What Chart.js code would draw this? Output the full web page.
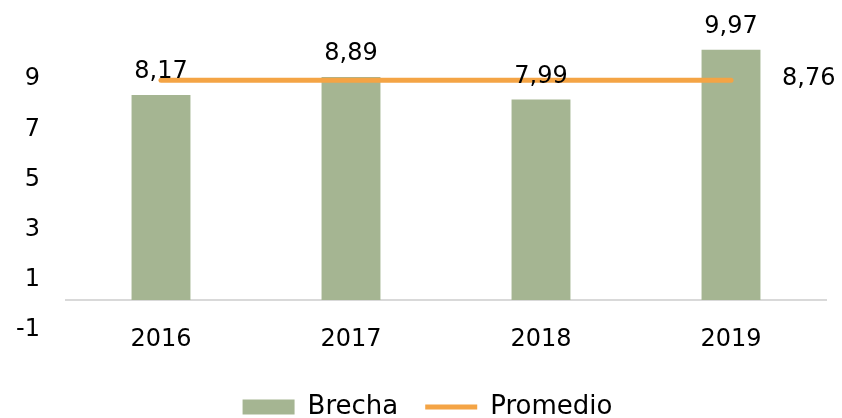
<!DOCTYPE html>
<html lang="es">
<head>
<meta charset="utf-8">
<title>Brecha</title>
<script src="https://cdn.jsdelivr.net/npm/chart.js@4/dist/chart.umd.min.js"></script>
<style>
    html, body { margin: 0; padding: 0; background: #fff; }
    #wrap { width: 842px; height: 418px; }
</style>
</head>
<body>
<div id="wrap"><canvas id="brechaChart" width="842" height="418"></canvas></div>
<script>
const years = ['2016', '2017', '2018', '2019'];
const brecha = [8.17, 8.89, 7.99, 9.97];
const promedio = [8.76, 8.76, 8.76, 8.76];
const yTicks = [-1, 1, 3, 5, 7, 9];

const FONT = '"DejaVu Sans", Verdana, sans-serif';

function fmt(v) {
    return v.toFixed(2).replace('.', ',');
}

// valores encima de las barras y el promedio al final de la línea
const valueLabels = {
    id: 'valueLabels',
    afterDatasetsDraw(chart) {
        const ctx = chart.ctx;
        ctx.save();
        ctx.font = '24px ' + FONT;
        ctx.fillStyle = '#000';
        ctx.textAlign = 'center';
        ctx.textBaseline = 'alphabetic';
        chart.getDatasetMeta(0).data.forEach((bar, i) => {
            ctx.fillText(fmt(brecha[i]), bar.x, bar.y - 17);
        });
        const pts = chart.getDatasetMeta(1).data;
        const last = pts[pts.length - 1];
        ctx.textAlign = 'left';
        ctx.textBaseline = 'middle';
        ctx.fillText(fmt(promedio[promedio.length - 1]), last.x + 51, last.y - 1);
        ctx.restore();
    }
};

// corre la leyenda un poco a la derecha
const legendShift = {
    id: 'legendShift',
    afterLayout(chart) {
        chart.legend.left += 29;
    }
};

Chart.defaults.font.family = FONT;
Chart.defaults.color = '#000';

new Chart(document.getElementById('brechaChart'), {
    type: 'bar',
    data: {
        labels: years,
        datasets: [
            {
                label: 'Brecha',
                data: brecha,
                backgroundColor: '#A5B592',
                barPercentage: 0.31,
                categoryPercentage: 1,
                order: 2
            },
            {
                type: 'line',
                label: 'Promedio',
                data: promedio,
                borderColor: '#F4A445',
                backgroundColor: '#F4A445',
                borderWidth: 5,
                borderCapStyle: 'round',
                pointRadius: 0,
                pointStyle: 'line',
                order: 1
            }
        ]
    },
    options: {
        responsive: false,
        animation: false,
        layout: { padding: { left: 0, right: 16, top: 24, bottom: -12 } },
        scales: {
            x: {
                position: { y: 0 },
                grid: { display: false, drawTicks: false },
                border: { display: true, color: '#D9D9D9', width: 2 },
                ticks: { font: { size: 24 }, padding: 25 }
            },
            y: {
                min: -1,
                max: 11,
                grid: { display: false, drawTicks: false },
                border: { display: false },
                ticks: { font: { size: 24 }, padding: 26, labelOffset: 5 },
                afterBuildTicks: scale => {
                    scale.ticks = yTicks.map(v => ({ value: v }));
                },
                afterFit: scale => {
                    scale.width = 66;
                    scale.paddingTop = 0;
                    scale.paddingBottom = 0;
                }
            }
        },
        plugins: {
            legend: {
                position: 'bottom',
                title: { display: true, text: '', font: { size: 10 }, padding: { top: 30, bottom: 0 } },
                labels: {
                    font: { size: 26 },
                    color: '#000',
                    usePointStyle: true,
                    pointStyleWidth: 52,
                    boxHeight: 15,
                    padding: 27,
                    sort: (a, b) => a.datasetIndex - b.datasetIndex,
                    generateLabels: function (chart) {
                        return chart.data.datasets.map((ds, i) => ({
                            text: ds.label,
                            datasetIndex: i,
                            fillStyle: ds.backgroundColor,
                            strokeStyle: ds.type === 'line' ? ds.borderColor : ds.backgroundColor,
                            lineWidth: ds.type === 'line' ? 5 : 0,
                            pointStyle: ds.type === 'line' ? 'line' : 'rect',
                            fontColor: '#000',
                            hidden: false
                        }));
                    }
                }
            },
            tooltip: { enabled: false }
        }
    },
    plugins: [valueLabels, legendShift]
});
</script>
</body>
</html>
